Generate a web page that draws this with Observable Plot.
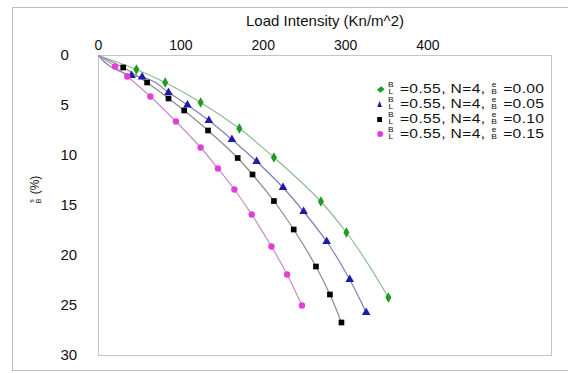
<!DOCTYPE html>
<html>
<head>
<meta charset="utf-8">
<script src="https://cdn.jsdelivr.net/npm/d3@7"></script>
<script src="https://cdn.jsdelivr.net/npm/@observablehq/plot@0.6"></script>
<style>
  html, body { margin: 0; padding: 0; background: #fff; overflow: hidden; }
  #wrap { position: relative; width: 568px; height: 373px; font-family: "Liberation Sans", Arial, sans-serif; color: #111; }
  #wrap svg { position: absolute; left: 0; top: 0; }
  .outer { position: absolute; left: 12px; top: 7px; width: 600px; height: 364px; border: 1px solid #bdbdbd; box-sizing: border-box; }
  .title { position: absolute; left: 0; width: 650px; top: 12px; text-align: center; font-size: 15px; }
  .frac { display: inline-flex; flex-direction: column; align-items: center; font-size: 7px; line-height: 7px; vertical-align: middle; margin: -1px 1px 0 1px; }
  .frac span { display: block; height: 7px; }
  .ylab { position: absolute; left: 35px; top: 190px; transform: translate(-50%, -50%) rotate(-90deg); white-space: nowrap; font-size: 12px; display: flex; align-items: center; }
  .legend { position: absolute; left: 376px; top: 81px; font-size: 13px; line-height: 15px; white-space: nowrap; letter-spacing: 0.3px; transform: scaleX(1.2); transform-origin: 0 0; }
  .row { height: 15px; display: flex; align-items: center; }
  .row > span.t { display: inline-block; height: 14px; line-height: 14px; }
  .mk { display: inline-block; width: 8px; height: 10px; position: relative; margin-right: 1px; }
  .mk i { position: absolute; display: block; }
</style>
</head>
<body>
<div id="wrap">
  <div class="outer"></div>
</div>
<script>
// ---- data ----
const seriesNames = ["e/B=0.00", "e/B=0.05", "e/B=0.10", "e/B=0.15"];
const eOverB = ["0.00", "0.05", "0.10", "0.15"];
const colors = ["#229a22", "#1c1ca8", "#000000", "#e040d8"];
const lineColors = ["#8cbc8c", "#7e7eb4", "#8a8a8a", "#c68cc6"];
const symbols = ["diamond", "triangle", "square", "circle"];

const loads000 = [46, 81, 124, 171, 213, 270, 301, 352];
const settle000 = [1.4, 2.7, 4.7, 7.3, 10.2, 14.6, 17.7, 24.2];
const loads005 = [40, 53, 85, 108, 134, 162, 192, 224, 249, 277, 305, 325];
const settle005 = [2.0, 2.15, 3.7, 4.95, 6.5, 8.4, 10.6, 13.2, 15.6, 18.6, 22.4, 25.7];
const loads010 = [30, 59, 85, 104, 133, 169, 187, 213, 237, 264, 281, 295];
const settle010 = [1.2, 2.7, 4.3, 5.5, 7.5, 10.25, 11.9, 14.55, 17.4, 21.1, 23.9, 26.7];
const loads015 = [20, 35, 63, 94, 124, 145, 165, 186, 210, 229, 247];
const settle015 = [1.1, 2.1, 4.1, 6.6, 9.2, 11.3, 13.4, 15.9, 19.1, 21.9, 25.0];

const xTicks = [0, 100, 200, 300, 400];
const yTicks = [0, 5, 10, 15, 20, 25, 30];

// ---- build tables ----
const allLoads = [loads000, loads005, loads010, loads015];
const allSettle = [settle000, settle005, settle010, settle015];
const points = [];
const lines = [];
seriesNames.forEach((s, i) => {
  lines.push({series: s, load: 0, settle: 0});
  allLoads[i].forEach((l, j) => {
    points.push({series: s, load: l, settle: allSettle[i][j]});
    lines.push({series: s, load: l, settle: allSettle[i][j]});
  });
});

const chart = Plot.plot({
  width: 568,
  height: 373,
  marginLeft: 98,
  marginRight: 17,
  marginTop: 55,
  marginBottom: 18,
  style: {fontFamily: "'Liberation Sans', Arial, sans-serif", color: "#111", background: "transparent"},
  x: {domain: [0, 550]},
  y: {domain: [0, 30], reverse: true},
  color: {domain: seriesNames, range: colors},
  symbol: {domain: seriesNames, range: symbols},
  marks: [
    Plot.frame({stroke: "#c4c4c4"}),
    Plot.axisX({anchor: "top", ticks: xTicks, tickSize: 0, tickPadding: 6, fontSize: 14, label: null}),
    Plot.axisY({anchor: "left", ticks: yTicks, tickSize: 0, tickPadding: 38, textAnchor: "start", fontSize: 15, label: null}),
    ...seriesNames.map((s, i) => Plot.line(lines.filter(d => d.series === s), {
      x: "load", y: "settle", stroke: lineColors[i], strokeWidth: 1.2, curve: "monotone-y"
    })),
    Plot.dot(points, {x: "load", y: "settle", fill: "series", symbol: "series", r: 3.2, stroke: "none"})
  ]
});
const wrap = document.getElementById("wrap");
wrap.appendChild(chart);

// title
const title = document.createElement("div");
title.className = "title";
title.textContent = "Load Intensity (Kn/m^2)";
wrap.appendChild(title);

// y label
const ylab = document.createElement("div");
ylab.className = "ylab";
ylab.innerHTML = '<span class="frac"><span>s</span><span>B</span></span><span>&nbsp;(%)</span>';
wrap.appendChild(ylab);

// legend
function markerHTML(i) {
  const c = colors[i];
  if (symbols[i] === "diamond") return `<span class="mk"><i style="left:2px;top:3px;width:4px;height:5px;background:${c};transform:rotate(45deg)"></i></span>`;
  if (symbols[i] === "triangle") return `<span class="mk"><i style="left:1px;top:2px;width:0;height:0;border-left:2.5px solid transparent;border-right:2.5px solid transparent;border-bottom:6px solid ${c}"></i></span>`;
  if (symbols[i] === "square") return `<span class="mk"><i style="left:1px;top:3px;width:4px;height:5px;background:${c}"></i></span>`;
  return `<span class="mk"><i style="left:1px;top:2px;width:5px;height:6px;border-radius:50%;background:${c}"></i></span>`;
}
const legend = document.createElement("div");
legend.className = "legend";
legend.innerHTML = seriesNames.map((s, i) =>
  `<div class="row">${markerHTML(i)}<span class="frac"><span>B</span><span>L</span></span><span class="t">&nbsp;=0.55, N=4,&nbsp;</span><span class="frac"><span>e</span><span>B</span></span><span class="t">&nbsp;=${eOverB[i]}</span></div>`
).join("");
wrap.appendChild(legend);
</script>
</body>
</html>
